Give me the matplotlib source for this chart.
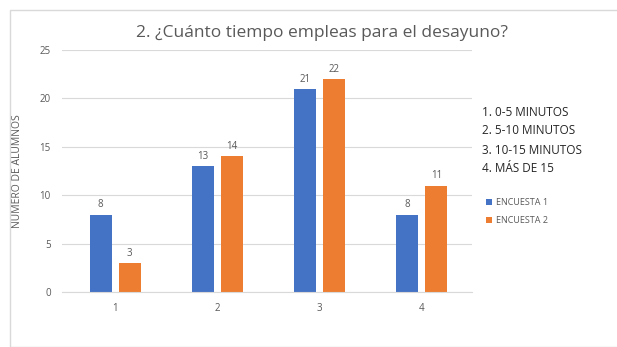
import numpy as np
import matplotlib.pyplot as plt
from matplotlib.patches import Rectangle

# ================================
# Data
# ================================
categories = ["1", "2", "3", "4"]
encuesta_1 = [8, 13, 21, 8]
encuesta_2 = [3, 14, 22, 11]
series_names = ["ENCUESTA 1", "ENCUESTA 2"]
notes = ["1. 0-5 MINUTOS", "2. 5-10 MINUTOS", "3. 10-15 MINUTOS", "4. MÁS DE 15"]

BLUE = "#4472C4"
ORANGE = "#ED7D31"
GRAY = "#595959"

plt.rcParams['font.family'] = ['Open Sans', 'DejaVu Sans']

fig = plt.figure(figsize=(6.17, 3.47), dpi=100)
fig.patches.append(Rectangle((10 / 617, 0), 1, 1 - 10 / 347, transform=fig.transFigure,
                             fill=False, edgecolor="#d9d9d9", linewidth=1))

ax = fig.add_axes([62 / 617, 1 - 292 / 347, (472 - 62) / 617, (292 - 50) / 347])

x = np.arange(len(categories))
w = 0.215
b1 = ax.bar(x - w / 2 - 0.035, encuesta_1, w, color=BLUE, label=series_names[0])
b2 = ax.bar(x + w / 2 + 0.035, encuesta_2, w, color=ORANGE, label=series_names[1])
ax.bar_label(b1, padding=3, fontsize=7, color=GRAY)
ax.bar_label(b2, padding=3, fontsize=7, color=GRAY)

ax.set_xlim(-0.52, 3.49)
ax.set_ylim(0, 25)
ax.set_yticks(range(0, 26, 5))
ax.set_xticks(x)
ax.set_xticklabels(categories)
ax.tick_params(length=0, labelsize=7, colors=GRAY, pad=8)
ax.yaxis.grid(True, color="#d9d9d9", linewidth=0.8)
ax.set_axisbelow(True)
for s in ["top", "right", "left"]:
    ax.spines[s].set_visible(False)
ax.spines["bottom"].set_color("#d9d9d9")

ax.set_ylabel("NUMERO DE ALUMNOS", fontsize=7.5, color=GRAY, labelpad=12)
fig.text(0.522, 1 - 33 / 347, "2. ¿Cuánto tiempo empleas para el desayuno?",
         ha="center", va="center", fontsize=12.5, color=GRAY)

for i, n in enumerate(notes):
    fig.text(482 / 617, 1 - (112 + i * 19) / 347, n, ha="left", va="center",
             fontsize=8.5, color="#262626")

leg = ax.legend(loc="upper left", bbox_to_anchor=(478 / 617, 1 - 190 / 347),
                bbox_transform=fig.transFigure, frameon=False, fontsize=6.5,
                handlelength=0.6, handleheight=0.6, handletextpad=0.5, labelspacing=1.0)
for t in leg.get_texts():
    t.set_color(GRAY)

fig.savefig("out.png", dpi=100)
